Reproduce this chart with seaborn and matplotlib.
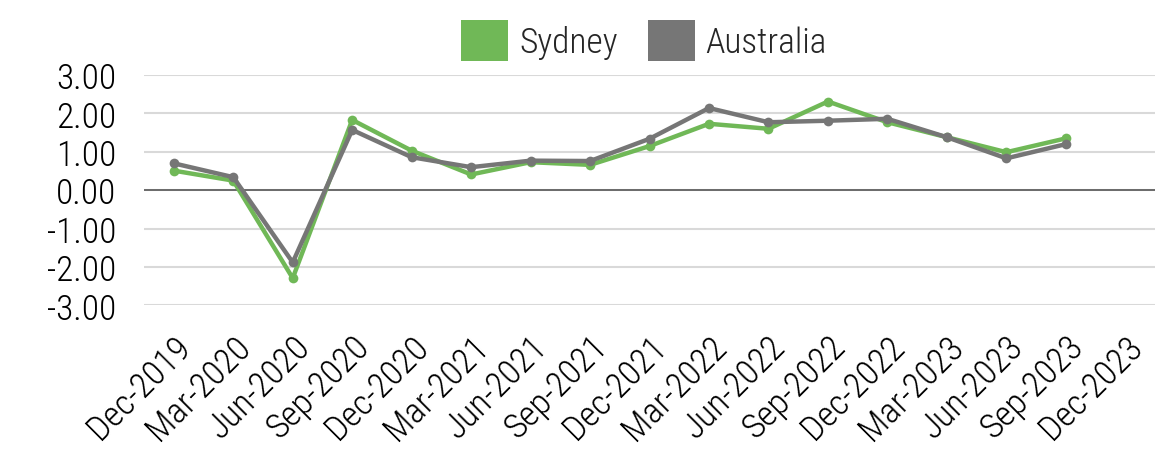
import matplotlib
matplotlib.use("Agg")
import matplotlib.pyplot as plt
from matplotlib.patches import Patch
from matplotlib.ticker import FormatStrFormatter
import seaborn as sns
import pandas as pd
import numpy as np

quarters = ["Dec-2019", "Mar-2020", "Jun-2020", "Sep-2020", "Dec-2020", "Mar-2021",
            "Jun-2021", "Sep-2021", "Dec-2021", "Mar-2022", "Jun-2022", "Sep-2022",
            "Dec-2022", "Mar-2023", "Jun-2023", "Sep-2023", "Dec-2023"]
sydney = [0.51, 0.25, -2.29, 1.83, 1.03, 0.41, 0.73, 0.66, 1.15, 1.73, 1.60, 2.31,
          1.77, 1.38, 0.99, 1.35, np.nan]
australia = [0.70, 0.34, -1.88, 1.57, 0.86, 0.60, 0.77, 0.76, 1.34, 2.14, 1.77, 1.81,
             1.86, 1.38, 0.83, 1.20, np.nan]
series = ["Sydney", "Australia"]
colors = {"Sydney": "#70b857", "Australia": "#767676"}

sns.set_style("white")
plt.rcParams["font.family"] = ["Roboto Condensed", "Archivo Narrow", "DejaVu Sans"]
plt.rcParams["font.weight"] = "light"
plt.rcParams["axes.unicode_minus"] = False

pos = np.arange(len(quarters))
df = pd.DataFrame({
    "pos": np.concatenate([pos, pos]),
    "value": sydney + australia,
    "region": ["Sydney"] * len(quarters) + ["Australia"] * len(quarters),
}).dropna()

fig = plt.figure(figsize=(11.75, 4.56), dpi=100)
ax = fig.add_axes([0.1226, 0.328, 0.8604, 0.5053])

ax.axhline(0, color="#6a6a6a", lw=1.4, zorder=1)
sns.lineplot(data=df, x="pos", y="value", hue="region", hue_order=series,
             palette=colors, marker="o", markersize=7, markeredgewidth=0,
             linewidth=3.2, legend=False, ax=ax, zorder=3)

fs = 25.5
ax.set_xlim(-0.5, len(quarters) - 0.5)
ax.set_ylim(-3, 3)
ax.set_yticks([-3, -2, -1, 0, 1, 2, 3])
ax.yaxis.set_major_formatter(FormatStrFormatter("%.2f"))
ax.set_xticks(pos)
# top-right anchored labels sit a little right of the tick, like the source
ax.set_xticklabels(quarters, rotation=45, ha="right", va="top",
                   rotation_mode="anchor")

ax.grid(axis="y", color="#d9d9d9", lw=1.5)
ax.grid(axis="x", visible=False)
ax.set_axisbelow(True)
for s in ax.spines.values():
    s.set_visible(False)
ax.tick_params(axis="x", length=0, pad=17, labelsize=fs, labelcolor="black")
ax.tick_params(axis="y", length=0, pad=20, labelsize=fs, labelcolor="black")
ax.set_xlabel("")
ax.set_ylabel("")

handles = [Patch(facecolor=colors[s], edgecolor="none", label=s) for s in series]
fig.legend(handles=handles, loc="upper center", bbox_to_anchor=(0.548, 1.0),
           ncol=2, frameon=False, fontsize=fs, handlelength=1.33,
           handleheight=1.38, handletextpad=0.31, columnspacing=0.85,
           borderaxespad=0.2)

fig.savefig("out.png", dpi=100)
